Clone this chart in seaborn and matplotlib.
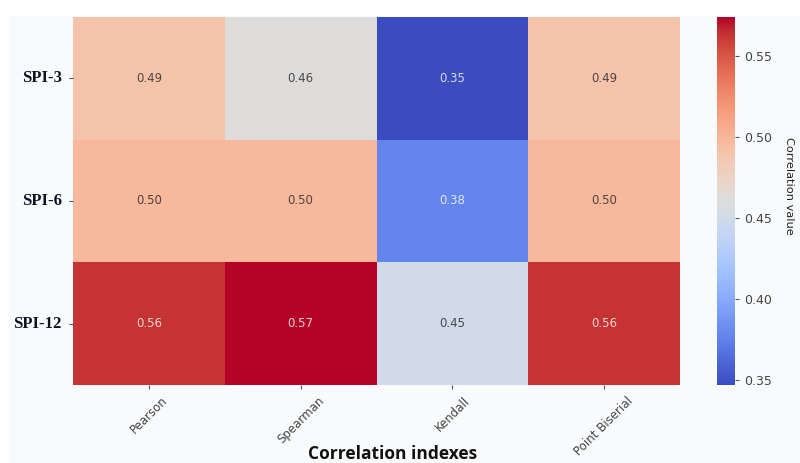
import matplotlib
matplotlib.use("Agg")
import matplotlib.pyplot as plt
from matplotlib.patches import Rectangle
import seaborn as sns
import numpy as np

rows = ["SPI-3", "SPI-6", "SPI-12"]
cols = ["Pearson", "Spearman", "Kendall", "Point Biserial"]
pearson = [0.49, 0.50, 0.56]
spearman = [0.46, 0.50, 0.57]
kendall = [0.35, 0.38, 0.45]
biserial = [0.49, 0.50, 0.56]
shown = np.array([pearson, spearman, kendall, biserial]).T
# colour values carry a little more precision than the annotations
colour_pearson = [0.490, 0.498, 0.563]
colour_spearman = [0.462, 0.498, 0.574]
colour_kendall = [0.347, 0.378, 0.450]
colour_biserial = [0.490, 0.498, 0.563]
colour = np.array([colour_pearson, colour_spearman, colour_kendall, colour_biserial]).T

fig = plt.figure(figsize=(8, 4.63), dpi=100, facecolor="white")
fig.patches.append(Rectangle((9/800, 0), 791/800, 1-16/463, transform=fig.transFigure,
                             facecolor="#f9fafc", edgecolor="none", zorder=-10))
ax = fig.add_axes([73/800, 1-385/463, (680-73)/800, (385-17)/463])
cax = fig.add_axes([717/800, 1-385/463, 18/800, (385-17)/463])
sns.heatmap(colour, annot=shown, fmt=".2f", cmap="coolwarm", ax=ax, cbar_ax=cax,
            xticklabels=cols, yticklabels=rows, annot_kws={"size": 8.5},
            vmin=0.347, vmax=0.574)
for t in ax.texts:
    t.set_alpha(0.8)
ax.tick_params(axis="x", labelsize=8.5, labelcolor="#444444", color="#555555", rotation=45, length=3)
ax.tick_params(axis="y", length=3, color="#555555", rotation=0, pad=5)
for t in ax.get_yticklabels():
    t.set_fontfamily("Liberation Serif")
    t.set_fontweight("bold")
    t.set_fontsize(12)
    t.set_color("#111122")
ax.set_xlabel("Correlation indexes", fontsize=12.5, fontweight="bold", family="Open Sans", color="#111111")
ax.xaxis.set_label_coords(0.526, -(454-385)/368, transform=ax.transAxes)
ax.xaxis.label.set_verticalalignment("center")
cax.tick_params(labelsize=9, length=3, color="#555555", labelcolor="#444444")
cax.set_ylabel("Correlation value", fontsize=8.2, rotation=270, color="#222222")
cax.yaxis.set_label_coords((789-717)/18, (385-186)/368, transform=cax.transAxes)
cax.yaxis.label.set_verticalalignment("center")
fig.savefig("out.png", dpi=100, facecolor="white")
